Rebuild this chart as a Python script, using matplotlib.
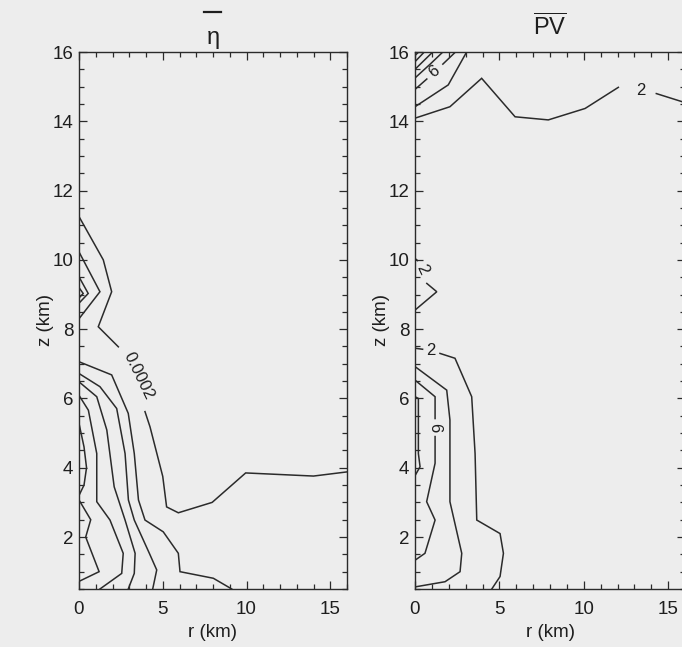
import matplotlib
matplotlib.use('Agg')
import matplotlib.pyplot as plt
from matplotlib.lines import Line2D
from matplotlib.ticker import MultipleLocator

plt.rcParams['font.family'] = ['Liberation Sans', 'DejaVu Sans']
plt.rcParams['mathtext.fontset'] = 'custom'
plt.rcParams['mathtext.rm'] = 'Liberation Sans'
plt.rcParams['mathtext.it'] = 'Liberation Sans'

BG = '#ededed'
INK = '#2b2b2b'

# ---------------- data: contour lines (r km, z km) -------------
# Left panel: azimuthal mean absolute vorticity (eta)
eta_upper_a_r = [0.0, 1.45, 1.95, 1.15, 2.35]
eta_upper_a_z = [11.25, 10.0, 9.08, 8.07, 7.49]
eta_upper_b_r = [3.94, 4.24, 5.0, 5.23, 5.93, 7.95, 9.95, 14.0, 16.0]
eta_upper_b_z = [5.62, 5.18, 3.75, 2.87, 2.70, 3.0, 3.85, 3.76, 3.88]
eta_loop1_r = [0.0, 1.25, 0.0]
eta_loop1_z = [10.23, 9.08, 8.30]
eta_loop2_r = [0.0, 0.55, 0.0]
eta_loop2_z = [9.51, 9.03, 8.75]
eta_loop3_r = [0.0, 0.25, 0.0]
eta_loop3_z = [9.20, 9.03, 8.90]
eta_lowA_r = [0.0, 1.95, 2.94, 3.3, 3.55, 3.94, 5.03, 5.93, 6.03, 8.02, 9.12]
eta_lowA_z = [7.06, 6.68, 5.57, 4.41, 3.07, 2.49, 2.15, 1.53, 1.0, 0.81, 0.5]
eta_lowB_r = [0.0, 1.25, 2.25, 2.75, 2.95, 3.3, 4.2, 4.64, 4.4]
eta_lowB_z = [6.72, 6.34, 5.71, 4.41, 3.07, 2.49, 1.53, 1.05, 0.5]
eta_lowC_r = [0.0, 1.06, 1.66, 2.1, 2.75, 3.35, 3.3, 2.94]
eta_lowC_z = [6.48, 6.05, 5.09, 3.45, 2.49, 1.53, 0.95, 0.5]
eta_lowD_r = [0.0, 0.56, 1.06, 1.06, 1.85, 2.64, 2.55, 1.25]
eta_lowD_z = [6.09, 5.66, 4.41, 3.02, 2.49, 1.53, 0.95, 0.5]
eta_lowE_r = [0.0, 0.3, 0.45, 0.3, 0.0]
eta_lowE_z = [5.28, 4.6, 4.0, 3.5, 3.2]
eta_lowF_r = [0.0, 0.7, 0.4, 1.2, 0.0]
eta_lowF_z = [3.07, 2.5, 2.0, 1.0, 0.72]
eta_label = '0.0002'
eta_label_pos = (3.55, 6.65)

# Right panel: azimuthal mean potential vorticity (PV)
pv_top2_a_r = [0.0, 2.07, 3.95, 5.93, 7.9, 10.08, 12.05]
pv_top2_a_z = [14.09, 14.42, 15.24, 14.13, 14.04, 14.37, 14.98]
pv_top2_b_r = [14.3, 15.8, 16.0]
pv_top2_b_z = [14.8, 14.57, 14.53]
pv_top4_r = [0.0, 1.97, 3.06]
pv_top4_z = [14.42, 15.05, 16.0]
pv_top6_a_r = [0.0, 0.7]
pv_top6_a_z = [14.92, 15.22]
pv_top6_b_r = [1.65, 2.4]
pv_top6_b_z = [15.65, 16.0]
pv_top8_r = [0.0, 0.9, 1.65]
pv_top8_z = [15.25, 15.65, 16.0]
pv_top10_r = [0.0, 1.05]
pv_top10_z = [15.5, 16.0]
pv_top12_r = [0.0, 0.55]
pv_top12_z = [15.72, 16.0]
pv_top14_r = [0.0, 0.22]
pv_top14_z = [15.9, 16.0]
pv_mid2_a_r = [0.0, 0.15]
pv_mid2_a_z = [10.04, 9.98]
pv_mid2_b_r = [0.7, 1.29, 0.0]
pv_mid2_b_z = [9.32, 9.08, 8.55]
pv_low2_a_r = [0.0, 0.45]
pv_low2_a_z = [7.45, 7.42]
pv_low2_b_r = [1.48, 2.37, 3.36, 3.56, 3.66, 5.04, 5.24, 5.04, 4.55]
pv_low2_b_z = [7.3, 7.16, 6.05, 4.41, 2.49, 2.1, 1.53, 0.86, 0.5]
pv_low4_r = [0.0, 1.88, 2.07, 2.07, 2.77, 2.67, 1.78, 0.0]
pv_low4_z = [6.92, 6.24, 5.38, 3.02, 1.53, 1.0, 0.71, 0.56]
pv_low6_a_r = [0.0, 1.19, 1.19]
pv_low6_a_z = [6.53, 6.05, 5.42]
pv_low6_b_r = [1.19, 1.19, 0.69, 1.19, 0.59, 0.0]
pv_low6_b_z = [4.9, 4.13, 3.02, 2.49, 1.53, 1.33]
pv_low8_r = [0.0, 0.2, 0.2, 0.3, 0.0]
pv_low8_z = [6.05, 6.0, 4.41, 4.03, 3.77]
pv_labels = ['6', '2', '2', '2', '6']
pv_label_r = [1.15, 13.4, 0.42, 0.92, 1.19]
pv_label_z = [15.43, 14.88, 9.72, 7.37, 5.16]
pv_label_rot = [38, 0, -65, 0, -90]

titles = ['\u03b7', r'$\overline{\mathrm{PV}}$']
xticks = [0, 5, 10, 15]
yticks = [2, 4, 6, 8, 10, 12, 14, 16]

# ---------------- figure -------------
W, H = 682, 647
fig = plt.figure(figsize=(W / 100, H / 100), dpi=100, facecolor=BG)
ax1 = fig.add_axes([79 / W, (H - 589) / H, 268 / W, 537 / H])
ax2 = fig.add_axes([415 / W, (H - 589) / H, 270 / W, 537 / H])

eta_lines = [
    (eta_upper_a_r, eta_upper_a_z), (eta_upper_b_r, eta_upper_b_z),
    (eta_loop1_r, eta_loop1_z), (eta_loop2_r, eta_loop2_z), (eta_loop3_r, eta_loop3_z),
    (eta_lowA_r, eta_lowA_z), (eta_lowB_r, eta_lowB_z), (eta_lowC_r, eta_lowC_z),
    (eta_lowD_r, eta_lowD_z), (eta_lowE_r, eta_lowE_z), (eta_lowF_r, eta_lowF_z),
]
pv_lines = [
    (pv_top2_a_r, pv_top2_a_z), (pv_top2_b_r, pv_top2_b_z), (pv_top4_r, pv_top4_z),
    (pv_top6_a_r, pv_top6_a_z), (pv_top6_b_r, pv_top6_b_z), (pv_top8_r, pv_top8_z),
    (pv_top10_r, pv_top10_z), (pv_top12_r, pv_top12_z), (pv_top14_r, pv_top14_z),
    (pv_mid2_a_r, pv_mid2_a_z), (pv_mid2_b_r, pv_mid2_b_z),
    (pv_low2_a_r, pv_low2_a_z), (pv_low2_b_r, pv_low2_b_z), (pv_low4_r, pv_low4_z),
    (pv_low6_a_r, pv_low6_a_z), (pv_low6_b_r, pv_low6_b_z), (pv_low8_r, pv_low8_z),
]

for ax, lines, title, tpad in [(ax1, eta_lines, titles[0], 6), (ax2, pv_lines, titles[1], 12)]:
    ax.set_facecolor('none')
    for r, z in lines:
        ax.plot(r, z, color=INK, lw=1.1, solid_joinstyle='miter', clip_on=True)
    ax.set_xlim(0, 16)
    ax.set_ylim(0.5, 16)
    ax.set_xticks(xticks)
    ax.set_yticks(yticks)
    ax.xaxis.set_minor_locator(MultipleLocator(1))
    ax.yaxis.set_minor_locator(MultipleLocator(0.5))
    ax.tick_params(which='both', direction='in', top=True, right=True,
                   colors=INK, width=0.9, labelsize=13.5, labelcolor='#1e1e1e')
    ax.tick_params(which='major', length=6)
    ax.tick_params(which='minor', length=3.5)
    ax.tick_params(axis='x', pad=9)
    ax.tick_params(axis='y', pad=4)
    for s in ax.spines.values():
        s.set_color(INK)
        s.set_linewidth(1.0)
    ax.set_xlabel('r (km)', fontsize=13.5, color='#1e1e1e', labelpad=4)
    ax.set_ylabel('z (km)', fontsize=13.5, color='#1e1e1e', labelpad=-1)
    ax.set_title(title, fontsize=17, color='#1e1e1e', pad=tpad)

# overbar of the eta title, drawn well above the glyph as in the original
ax1.add_artist(Line2D([0.465, 0.53], [1.075, 1.075], transform=ax1.transAxes,
                      color='#1e1e1e', lw=1.6, clip_on=False))

ax1.text(eta_label_pos[0], eta_label_pos[1], eta_label, rotation=-64, fontsize=12,
         ha='center', va='center', color='#1e1e1e', rotation_mode='anchor')
for t, r, z, rot in zip(pv_labels, pv_label_r, pv_label_z, pv_label_rot):
    ax2.text(r, z, t, rotation=rot, fontsize=12, ha='center', va='center',
             color='#1e1e1e', rotation_mode='anchor')

fig.savefig('out.png', dpi=100, facecolor=BG)
